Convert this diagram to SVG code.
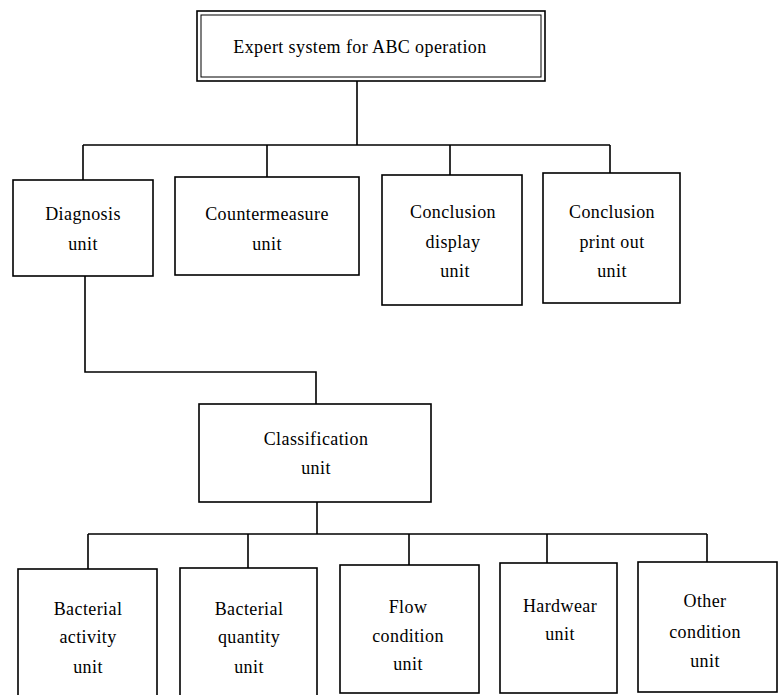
<svg xmlns="http://www.w3.org/2000/svg" width="780" height="695" viewBox="0 0 780 695">
<style>
.box{fill:#fff;stroke:#000;stroke-width:1.6}
.thin{fill:none;stroke:#000;stroke-width:1}
.t{font-family:"Liberation Serif","Times New Roman",serif;font-size:18px;fill:#000;text-anchor:middle;letter-spacing:0.4px}
#connectors path{fill:none;stroke:#000;stroke-width:1.6}
</style>
<rect width="780" height="695" fill="#fff"/>
<g id="connectors">
<path d="M357 81V145M83 145H610M83 145V180M267 145V177M450 145V175M610 145V173"/>
<path d="M85 276V372H316V404"/>
<path d="M317 502V534M88 534H707M88 534V569M248 534V568M409 534V565M547 534V563M707 534V562"/>
</g>
<g id="root">
<rect x="197" y="11" width="348" height="70" class="box" stroke-width="2"/>
<rect x="201" y="15" width="340" height="62" class="thin"/>
<text x="360" y="53" class="t">Expert system for ABC operation</text>
</g>
<g id="diagnosis">
<rect x="13" y="180" width="140" height="96" class="box"/>
<text x="83" y="220" class="t">Diagnosis</text>
<text x="83" y="250" class="t">unit</text>
</g>
<g id="countermeasure">
<rect x="175" y="177" width="184" height="98" class="box"/>
<text x="267" y="220" class="t">Countermeasure</text>
<text x="267" y="250" class="t">unit</text>
</g>
<g id="conclusion-display">
<rect x="382" y="175" width="140" height="130" class="box"/>
<text x="453" y="218" class="t">Conclusion</text>
<text x="453" y="248" class="t">display</text>
<text x="455" y="277" class="t">unit</text>
</g>
<g id="conclusion-print">
<rect x="543" y="173" width="137" height="130" class="box"/>
<text x="612" y="218" class="t">Conclusion</text>
<text x="612" y="248" class="t">print out</text>
<text x="612" y="277" class="t">unit</text>
</g>
<g id="classification">
<rect x="199" y="404" width="232" height="98" class="box"/>
<text x="316" y="445" class="t">Classification</text>
<text x="316" y="474" class="t">unit</text>
</g>
<g id="bacterial-activity">
<rect x="18" y="569" width="139" height="130" class="box"/>
<text x="88" y="615" class="t">Bacterial</text>
<text x="88" y="643" class="t">activity</text>
<text x="88" y="673" class="t">unit</text>
</g>
<g id="bacterial-quantity">
<rect x="180" y="568" width="137" height="130" class="box"/>
<text x="249" y="615" class="t">Bacterial</text>
<text x="249" y="643" class="t">quantity</text>
<text x="249" y="673" class="t">unit</text>
</g>
<g id="flow-condition">
<rect x="340" y="565" width="139" height="128" class="box"/>
<text x="408" y="613" class="t">Flow</text>
<text x="408" y="642" class="t">condition</text>
<text x="408" y="670" class="t">unit</text>
</g>
<g id="hardwear">
<rect x="500" y="563" width="117" height="130" class="box"/>
<text x="560" y="612" class="t">Hardwear</text>
<text x="560" y="640" class="t">unit</text>
</g>
<g id="other-condition">
<rect x="638" y="562" width="139" height="130" class="box"/>
<text x="705" y="607" class="t">Other</text>
<text x="705" y="638" class="t">condition</text>
<text x="705" y="667" class="t">unit</text>
</g>
</svg>
